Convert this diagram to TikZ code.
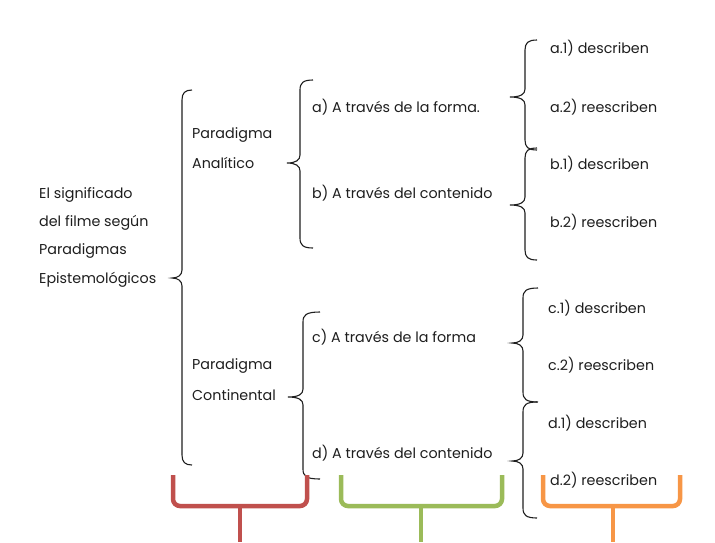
\documentclass[tikz,border=0pt]{standalone}
\usepackage{fontspec}
\setmainfont{Poppins}
\definecolor{txt}{RGB}{30,30,30}
\definecolor{bred}{RGB}{192,80,77}
\definecolor{bgreen}{RGB}{155,187,89}
\definecolor{borange}{RGB}{247,150,70}
\newcommand{\mybrace}[6]{% xe, xv, xt, yt, ym, yb
  \draw[brc] ({#1},{#4}) .. controls ({#2+3},{#4}) and ({#2},{#4+3}) .. ({#2},{#4+10})
    -- ({#2},{#5-8}) .. controls ({#2},{#5-3}) and ({#2-4},{#5}) .. ({#3},{#5})
    .. controls ({#2-4},{#5}) and ({#2},{#5+3}) .. ({#2},{#5+8})
    -- ({#2},{#6-10}) .. controls ({#2},{#6-3}) and ({#2+3},{#6}) .. ({#1},{#6});}
\begin{document}
\begin{tikzpicture}[x=1pt,y=-1pt,
  lbl/.style={anchor=west,inner sep=0pt,text=txt,font=\fontsize{14.3}{16}\selectfont},
  brc/.style={draw=txt,line width=1.1pt},
  cbr/.style={line width=4.5pt,rounded corners=7pt}]
\useasboundingbox (0,0) rectangle (715,542);
% left title
\node[lbl] (t1) at (39,195) {El significado};
\node[lbl] (t2) at (39,223) {del filme según};
\node[lbl] (t3) at (39,251) {Paradigmas};
\node[lbl] (t4) at (39,280) {Epistemológicos};
% paradigms
\node[lbl] (pa1) at (192,135) {Paradigma};
\node[lbl] (pa2) at (192,163) {Analítico};
\node[lbl] (pc1) at (192,366) {Paradigma};
\node[lbl] (pc2) at (192,395) {Continental};
% middle
\node[lbl] (a) at (312,107) {a) A través de la forma.};
\node[lbl] (b) at (312,193) {b) A través del contenido};
\node[lbl] (c) at (312,337) {c) A través de la forma};
\node[lbl] (d) at (312,453) {d) A través del contenido};
% right
\node[lbl] (a1) at (550,48) {a.1) describen};
\node[lbl] (a2) at (550,107) {a.2) reescriben};
\node[lbl] (b1) at (550,164) {b.1) describen};
\node[lbl] (b2) at (550,222) {b.2) reescriben};
\node[lbl] (c1) at (548,308) {c.1) describen};
\node[lbl] (c2) at (548,365) {c.2) reescriben};
\node[lbl] (d1) at (548,423) {d.1) describen};
\node[lbl] (d2) at (550,480) {d.2) reescriben};
% braces
\mybrace{192}{182}{172}{90}{278}{465}
\mybrace{313}{300}{287}{80}{163}{248}
\mybrace{320}{303}{288}{312}{397}{479}
\mybrace{537}{525}{510}{40}{97}{150}
\mybrace{537}{525}{510}{148}{205}{260}
\mybrace{538}{523}{512}{288}{343}{402}
\mybrace{537}{523}{512}{402}{461}{518}
% coloured brackets
\draw[cbr,bred] (173,475) -- (173,506) -- (307,506) -- (307,475);
\draw[cbr,bred] (240,506) -- (240,542);
\draw[cbr,bgreen] (341,475) -- (341,506) -- (502,506) -- (502,475);
\draw[cbr,bgreen] (421,506) -- (421,542);
\draw[cbr,borange] (543,475) -- (543,506) -- (680,506) -- (680,475);
\draw[cbr,borange] (613,506) -- (613,542);
\end{tikzpicture}
\end{document}
